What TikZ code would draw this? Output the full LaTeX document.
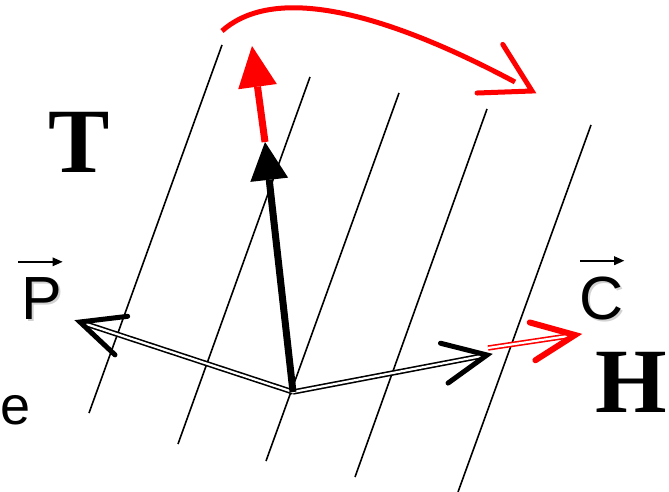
\documentclass[tikz,border=0pt]{standalone}
\usepackage{fontspec}
\setmainfont{Liberation Serif}
\setsansfont{Liberation Sans}
\usetikzlibrary{arrows.meta,calc,positioning}
\NewDocumentCommand{\drawbarb}{ m m m m m }
{
    \draw[#3,line cap=round,line join=miter] ($(#1)!#4!-#5:(#2)$) -- (#1) -- ($(#1)!#4!#5:(#2)$);
}

\begin{document}
\begin{tikzpicture}[x=1pt,y=-1pt,
  fieldline/.style={line width=1.6pt},
  axisvec/.style={line width=7pt,-{Triangle[length=38pt,width=38pt,line width=0pt]}},
  rotvec/.style={red,line width=7pt,-{Triangle[length=41pt,width=39pt,line width=0pt]}},
  dblvec/.style={double=white,double distance=2.2pt,line width=1.6pt,shorten >=3pt},
  bigletter/.style={inner sep=0pt,font=\fontsize{92}{92}\selectfont\bfseries},
  vecletter/.style={inner sep=0pt,font=\fontsize{61}{61}\selectfont\sffamily},
  vecshadow/.style={vecletter,text=gray!35},
  overarrow/.style={line width=1.6pt,-{Triangle[length=10pt,width=9pt,line width=0pt]}},
  ]
  \useasboundingbox (0,0) rectangle (669,492);
  \foreach \xa/\ya/\xb/\yb in {222/45/89/413, 310/77/178/444, 399/93/266/461, 487/109/355/477, 591/125/458/492}
    \draw[fieldline] (\xa,\ya) -- (\xb,\yb);
  \coordinate (o) at (293,392);
  \coordinate (tz) at (265,142);
  \coordinate (tzr) at (252,46);
  \coordinate (pv) at (80,322);
  \coordinate (cv) at (487,355);
  \coordinate (cr0) at (488,348);
  \coordinate (cr) at (575,335);
  \coordinate (arcstart) at (222,31);
  \coordinate (arcend) at (515,82);
  \coordinate (arctip) at (532,91);
  \draw[dblvec] (o) -- (pv);
  \drawbarb{pv}{o}{line width=5pt}{48pt}{25}
  \draw[dblvec] (o) -- (cv);
  \drawbarb{cv}{o}{line width=5pt}{48pt}{25}
  \draw[dblvec,red] (cr0) -- (cr);
  \drawbarb{cr}{cr0}{red,line width=6pt}{47pt}{24}
  \draw[axisvec] (o) -- (tz);
  \draw[rotvec] (tz) -- (tzr);
  \draw[red,line width=5pt] (arcstart) .. controls (277,-18) and (391,16) .. (arcend);
  \drawbarb{arctip}{arcend}{red,line width=5pt}{55pt}{30}
  \node[bigletter] (lT) at (79,142.5) {T};
  \node[bigletter,anchor=west] (lH) at (595,382) {H};
  \node[vecshadow] at (43.5,300.5) {P};
  \node[vecletter] (lP) at (42,299) {P};
  \node[vecshadow] at (603.5,300) {C};
  \node[vecletter] (lC) at (602,298.5) {C};
  \draw[overarrow] ([xshift=-3pt,yshift=16pt]lP.north west) -- ([yshift=16pt]lP.north east);
  \draw[overarrow] ([yshift=16pt]lC.north west) -- ([yshift=16pt]lC.north east);
  \node[anchor=base west,inner sep=0pt,font=\fontsize{54}{54}\selectfont\sffamily] (le) at (0,424) {e};
\end{tikzpicture}
\end{document}
